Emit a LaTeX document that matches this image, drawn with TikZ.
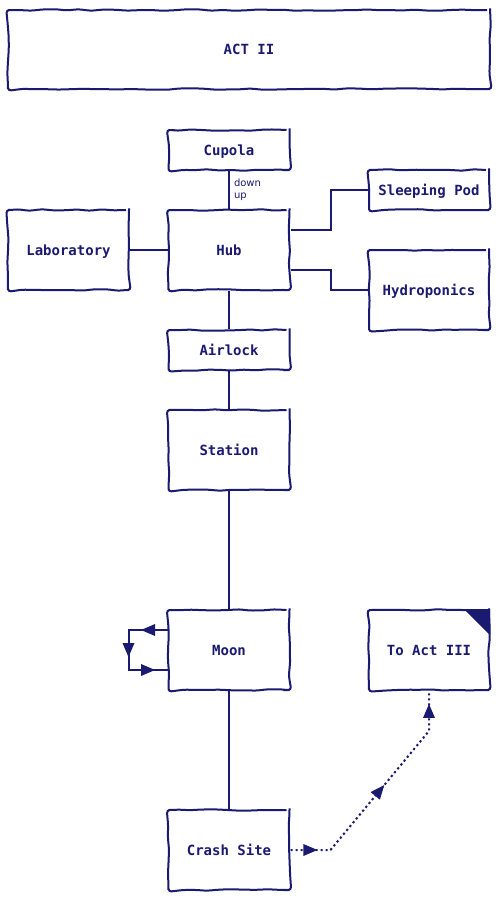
\documentclass[tikz,border=0pt]{standalone}
\usepackage{fontspec}
\usepackage{xcolor}
\usepackage{tikz}
\usetikzlibrary{decorations.pathmorphing,decorations.markings}
\newfontfamily\roomfont{DejaVu Sans Mono}
\newfontfamily\notefont{DejaVu Sans}
\definecolor{ink}{RGB}{26,26,112}

\tikzset{
  room/.style={draw=ink, line width=2pt, fill=white, text=ink,
    minimum width=121pt, minimum height=80pt, inner sep=0pt,
    text height=10pt, text depth=0pt,
    font={\roomfont\bfseries\fontsize{14pt}{16pt}\selectfont},
    decorate, decoration={random steps, segment length=12pt, amplitude=0.8pt},
    rounded corners=3pt},
  slimroom/.style={room, minimum height=40pt},
  link/.style={draw=ink, line width=2pt},
  hop/.style={link, dash pattern={on 2.2pt off 2.8pt}},
  note/.style={text=ink, font={\notefont\fontsize{10pt}{12pt}\selectfont},
    anchor=west, inner sep=0pt},
  headmark/.style={fill=ink, draw=none},
  threeheads/.style n args={3}{postaction={decorate, decoration={markings,
    mark=at position #1 with {\fill[ink] (-7pt,-6pt) -- (7pt,0pt) -- (-7pt,6pt) -- cycle;},
    mark=at position #2 with {\fill[ink] (-7pt,-6pt) -- (7pt,0pt) -- (-7pt,6pt) -- cycle;},
    mark=at position #3 with {\fill[ink] (-7pt,-6pt) -- (7pt,0pt) -- (-7pt,6pt) -- cycle;}}}}
}

\begin{document}
\begin{tikzpicture}[x=1pt, y=1pt]
  \useasboundingbox (0,0) rectangle (498,-900);
  \pgfmathsetseed{7}

  % Act banner
  \node[room, minimum width=482pt, minimum height=79pt] (act) at (249,-49.5) {ACT II};

  % Rooms
  \node[slimroom] (cupola) at (229,-150) {Cupola};
  \node[room] (hub) at (229,-250) {Hub};
  \node[room] (lab) at (68.5,-250) {Laboratory};
  \node[slimroom, minimum width=120pt] (pod) at (429,-190) {Sleeping Pod};
  \node[room, minimum width=120pt] (hydro) at (429,-290) {Hydroponics};
  \node[slimroom] (airlock) at (229,-350) {Airlock};
  \node[room] (station) at (229,-450) {Station};
  \node[room] (moon) at (229,-650) {Moon};
  \node[room] (crash) at (229,-850) {Crash Site};
  \node[room, minimum width=120pt] (act3) at (429,-650) {To Act III};

  % Exit corner
  \fill[headmark] ([xshift=-26pt]act3.north east) -- (act3.north east)
      -- ([yshift=-26pt]act3.north east) -- cycle;

  % Corridors
  \draw[link] (cupola) -- (hub)
      node[note, pos=0.3, xshift=4pt] {down}
      node[note, pos=0.68, xshift=4pt] {up};
  \draw[link] (lab) -- (hub);
  \draw[link] ([yshift=20pt]hub.east) -- ++(40,0) |- (pod.west);
  \draw[link] ([yshift=-20pt]hub.east) -- ++(40,0) |- (hydro.west);
  \foreach \a/\b in {hub/airlock, airlock/station, station/moon, moon/crash} {
    \draw[link] (\a) -- (\b);
  }

  % Loop back into the moon
  \draw[link, threeheads={0.165}{0.5}{0.835}] ([yshift=20pt]moon.west) -- ++(-39,0)
      -- ++(0,-40) -- ([yshift=-20pt]moon.west);

  % Way out to the next act
  \draw[hop, threeheads={0.085}{0.5}{0.915}] (crash.east) -- ++(40,0)
      -- ([yshift=-40pt]act3.south) -- (act3.south);
\end{tikzpicture}
\end{document}
